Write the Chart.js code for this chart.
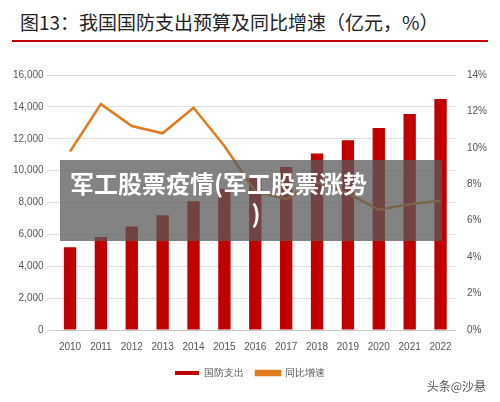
<!DOCTYPE html>
<html><head><meta charset="utf-8">
<script src="https://cdn.jsdelivr.net/npm/chart.js@4"></script>
<style>
body{margin:0;background:#fff;font-family:"Noto Sans CJK SC","Noto Sans",sans-serif}
#wrap{position:relative;width:500px;height:402px}
#title{position:absolute;left:20px;top:8px;font-size:19px;color:#222}
#rule{position:absolute;left:12px;top:40px;width:476px;height:2px;background:#c00000}
#box{position:absolute;left:10px;top:66px;width:480px;height:322px}
#band{position:absolute;left:60px;top:160px;width:382px;height:81px;background:rgba(90,90,90,0.75);color:#fff;font-weight:bold;font-size:24px;line-height:30px;text-align:left;padding:8px 0 0 10px;box-sizing:border-box}
#band span{display:block;text-align:center}
#mark{position:absolute;right:14px;bottom:8px;font-size:12px;color:#555}
</style></head><body>
<div id="wrap">
<div id="title">图13：我国国防支出预算及同比增速（亿元，%）</div>
<div id="rule"></div>
<div id="box"><canvas id="c"></canvas></div>
<div id="band">军工股票疫情(军工股票涨势<span>)</span></div>
<div id="mark">头条@沙悬</div>
</div>
<script>
const years = ['2010','2011','2012','2013','2014','2015','2016','2017','2018','2019','2020','2021','2022'];
const spending = [5190, 5830, 6500, 7200, 8080, 8870, 9540, 10230, 11070, 11900, 12680, 13550, 14500];
const growth = [9.8, 12.4, 11.2, 10.8, 12.2, 10.1, 7.6, 7.2, 8.1, 7.5, 6.6, 6.9, 7.1];

new Chart(document.getElementById('c'), {
  data: {
    labels: years,
    datasets: [
      { type: 'bar', label: '国防支出', data: spending, yAxisID: 'y', backgroundColor: '#c00000', barPercentage: 0.4, categoryPercentage: 1, order: 1 },
      { type: 'line', label: '同比增速', data: growth, yAxisID: 'y1', borderColor: '#e07b1f', backgroundColor: '#e07b1f', borderWidth: 2.5, pointRadius: 0, tension: 0, order: 0 }
    ]
  },
  options: {
    responsive: true, maintainAspectRatio: false, animation: false,
    plugins: {
      legend: { position: 'bottom', labels: { boxWidth: 24, boxHeight: 4, padding: 12, color: '#555', font: { size: 10 }, sort: (a, b) => a.datasetIndex - b.datasetIndex } }
    },
    scales: {
      x: { grid: { display: false }, ticks: { color: '#555', font: { size: 10 } } },
      y: { min: 0, max: 16000, ticks: { stepSize: 2000, color: '#555', font: { size: 10 }, callback: v => v.toLocaleString('en-US') }, grid: { color: '#ddd' }, border: { display: false } },
      y1: { position: 'right', min: 0, max: 14, ticks: { stepSize: 2, color: '#555', font: { size: 10 }, callback: v => v + '%' }, grid: { display: false }, border: { display: false } }
    }
  }
});
</script>
</body></html>
